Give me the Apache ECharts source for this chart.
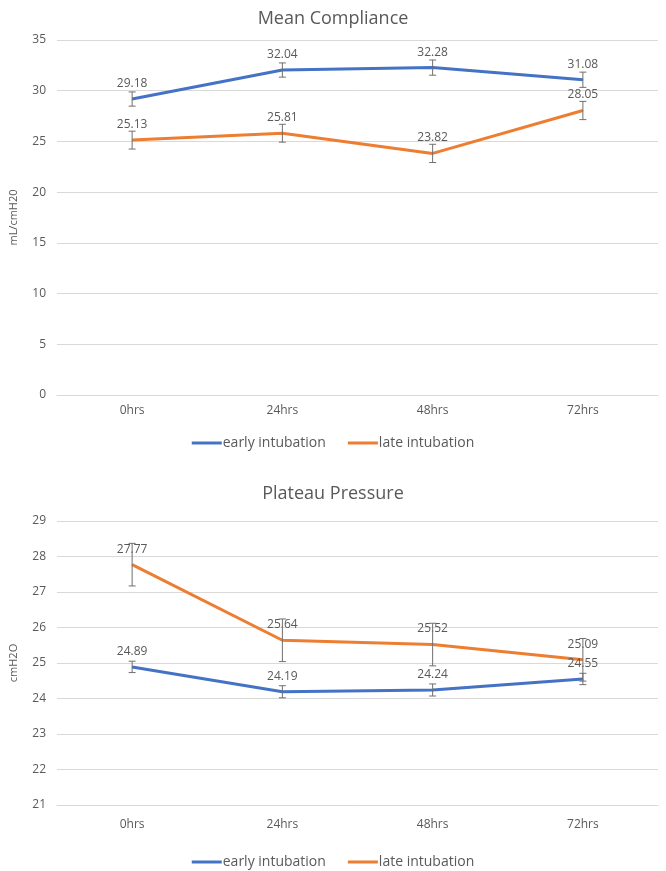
<!DOCTYPE html>
<html>
<head>
<meta charset="utf-8">
<script src="https://cdn.jsdelivr.net/npm/echarts@6/dist/echarts.min.js"></script>
<style>
html,body{margin:0;padding:0;background:#fff;}
#c{width:666px;height:871px;}
</style>
</head>
<body>
<div id="c"></div>
<script>
const categories = ['0hrs', '24hrs', '48hrs', '72hrs'];
const seriesNames = ['early intubation', 'late intubation'];

const complianceEarly = [29.18, 32.04, 32.28, 31.08];
const complianceLate = [25.13, 25.81, 23.82, 28.05];
const complianceEarlyErr = [0.7, 0.7, 0.75, 0.75];
const complianceLateErr = [0.88, 0.88, 0.9, 0.9];

const plateauEarly = [24.89, 24.19, 24.24, 24.55];
const plateauLate = [27.77, 25.64, 25.52, 25.09];
const plateauEarlyErr = [0.16, 0.17, 0.17, 0.16];
const plateauLateErr = [0.6, 0.6, 0.6, 0.6];

const BLUE = '#4472C4', ORANGE = '#ED7D31', GRAY = '#595959', GRID = '#D9D9D9';
const FONT = 'Open Sans';

function errData(vals, errs) {
  return vals.map((v, i) => [i, v - errs[i], v + errs[i]]);
}
function errRender(params, api) {
  const lo = api.coord([api.value(0), api.value(1)]);
  const hi = api.coord([api.value(0), api.value(2)]);
  const w = 3.5;
  const st = { stroke: '#6f6f6f', lineWidth: 1 };
  return {
    type: 'group',
    children: [
      { type: 'line', shape: { x1: lo[0], y1: lo[1], x2: hi[0], y2: hi[1] }, style: st },
      { type: 'line', shape: { x1: lo[0] - w, y1: lo[1], x2: lo[0] + w, y2: lo[1] }, style: st },
      { type: 'line', shape: { x1: hi[0] - w, y1: hi[1], x2: hi[0] + w, y2: hi[1] }, style: st }
    ]
  };
}
function lineSeries(name, data, color, idx) {
  return {
    name: name, type: 'line', data: data, xAxisIndex: idx, yAxisIndex: idx,
    showSymbol: true, symbol: 'circle', symbolSize: 1, z: 3,
    lineStyle: { color: color, width: 3 }, itemStyle: { color: color },
    label: { show: true, position: 'top', distance: 9, color: GRAY, fontFamily: FONT, fontSize: 12,
      formatter: p => p.value.toFixed(2) },
    labelLayout: { hideOverlap: false },
    emphasis: { disabled: true }
  };
}
function errSeries(vals, errs, idx) {
  return {
    type: 'custom', xAxisIndex: idx, yAxisIndex: idx, z: 4,
    renderItem: errRender, data: errData(vals, errs),
    encode: { x: 0, y: [1, 2] }, silent: true
  };
}
const xAxisBase = {
  type: 'category', data: categories, boundaryGap: true,
  axisLine: { show: true, lineStyle: { color: GRID } },
  axisTick: { show: false },
  axisLabel: { color: GRAY, fontFamily: FONT, fontSize: 12 }
};
const yAxisBase = {
  type: 'value',
  axisLine: { show: false }, axisTick: { show: false },
  splitLine: { lineStyle: { color: GRID, width: 1 } },
  axisLabel: { color: GRAY, fontFamily: FONT, fontSize: 12, margin: 11 },
  nameLocation: 'middle', nameGap: 38,
  nameTextStyle: { color: GRAY, fontFamily: FONT, fontSize: 11 }
};
const legendBase = {
  data: seriesNames, left: 'center', icon: 'rect', itemWidth: 30, itemHeight: 3,
  itemGap: 22, selectedMode: false,
  textStyle: { color: GRAY, fontFamily: FONT, fontSize: 14, padding: [0, 0, 0, -4] }
};

const chart = echarts.init(document.getElementById('c'), null, { renderer: 'canvas' });
chart.setOption({
  backgroundColor: '#fff',
  animation: false,
  title: [
    { text: 'Mean Compliance', left: 'center', top: 5,
      textStyle: { color: GRAY, fontFamily: FONT, fontSize: 18, fontWeight: 'normal' } },
    { text: 'Plateau Pressure', left: 'center', top: 480,
      textStyle: { color: GRAY, fontFamily: FONT, fontSize: 18, fontWeight: 'normal' } }
  ],
  legend: [
    Object.assign({}, legendBase, { top: 431 }),
    Object.assign({}, legendBase, { top: 850 })
  ],
  grid: [
    { left: 51, right: 8, top: 40, height: 355 },
    { left: 51, right: 8, top: 521, height: 284 }
  ],
  xAxis: [
    Object.assign({}, xAxisBase, { gridIndex: 0, axisLabel: Object.assign({}, xAxisBase.axisLabel, { margin: 10 }) }),
    Object.assign({}, xAxisBase, { gridIndex: 1, axisLabel: Object.assign({}, xAxisBase.axisLabel, { margin: 14 }) })
  ],
  yAxis: [
    Object.assign({}, yAxisBase, { gridIndex: 0, min: 0, max: 35, interval: 5, name: 'mL/cmH20' }),
    Object.assign({}, yAxisBase, { gridIndex: 1, min: 21, max: 29, interval: 1, name: 'cmH2O' })
  ],
  series: [
    lineSeries(seriesNames[0], complianceEarly, BLUE, 0),
    lineSeries(seriesNames[1], complianceLate, ORANGE, 0),
    errSeries(complianceEarly, complianceEarlyErr, 0),
    errSeries(complianceLate, complianceLateErr, 0),
    lineSeries(seriesNames[0], plateauEarly, BLUE, 1),
    lineSeries(seriesNames[1], plateauLate, ORANGE, 1),
    errSeries(plateauEarly, plateauEarlyErr, 1),
    errSeries(plateauLate, plateauLateErr, 1)
  ]
});
</script>
</body>
</html>
